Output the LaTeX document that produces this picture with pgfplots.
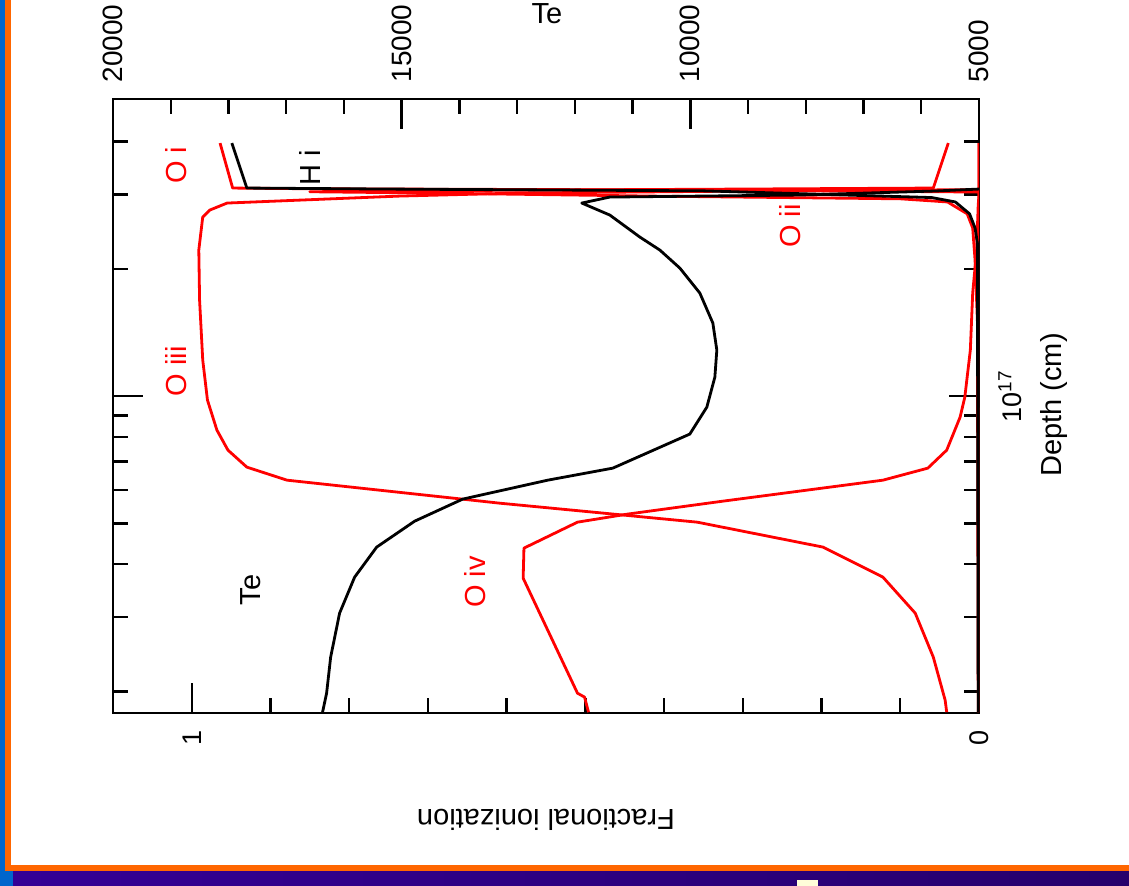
\documentclass[border=0pt]{standalone}
\usepackage{pgfplots}
\pgfplotsset{compat=1.18}
\usepackage{fontspec}
\setmainfont{Liberation Sans}
\definecolor{slideblue}{RGB}{0,102,204}
\definecolor{slideorange}{RGB}{255,102,0}
\definecolor{barleft}{RGB}{52,0,150}
\definecolor{barright}{RGB}{38,0,108}
\newcommand\lab{\fontsize{14.5}{17}\selectfont}
\newcommand\tlab{\fontsize{13.5}{16}\selectfont}
\newcommand\tlabT{\fontsize{14}{16}\selectfont}

\begin{document}
\begin{tikzpicture}
\useasboundingbox (0,0) rectangle (564.5pt,443pt);
% slide frame
\fill[white] (0,0) rectangle (564.5pt,443pt);
\shade[left color=barleft, right color=barright] (0,0) rectangle (564.5pt,7.5pt);
\fill[slideblue] (0,0) rectangle (2.5pt,443pt);
\fill[slideblue] (0,0) rectangle (6.5pt,7.5pt);
\fill[slideorange] (2.5pt,7.5pt) rectangle (5.5pt,443pt);
\fill[slideorange] (2.5pt,7.5pt) rectangle (564.5pt,10.5pt);
\fill[white!85!yellow] (398.5pt,0pt) rectangle (409pt,3pt);

% ionization fractions against depth
\begin{axis}[
  scale only axis, width=433pt, height=307pt,
  at={(56.5pt,86.5pt)}, anchor=south west,
  ymode=log, ymin=1.78e16, ymax=5.05e17,
  x dir=reverse, xmin=0, xmax=1.1,
  tick align=inside, major tick length=15pt, minor tick length=7.5pt,
  tick style={black, line width=1.2pt},
  axis line style={line width=1.3pt},
  xtick={0,1}, xticklabels={0,1},
  minor xtick={0.1,0.2,0.3,0.4,0.5,0.6,0.7,0.8,0.9},
  xtick pos=left, xticklabel pos=left,
  xticklabel style={font=\tlab, inner sep=0pt, rotate=90, anchor=east},
  xticklabel shift=8.5pt,
  ytick={1e17}, yticklabels={10\textsuperscript{17}},
  minor ytick={2e16,3e16,4e16,5e16,6e16,7e16,8e16,9e16,2e17,3e17,4e17},
  ytick pos=both, yticklabel pos=right,
  yticklabel style={font=\tlab, inner sep=0pt, rotate=90, anchor=north},
  yticklabel shift=9.5pt,
  xlabel={Fractional ionization},
  xlabel style={font=\lab, rotate=180, at={(axis description cs:0.5,-0.174)}, anchor=center},
  ylabel={Depth (cm)},
  ylabel style={font=\lab, at={(axis description cs:1.0866,0.5016)}, anchor=center},
]
% O iii
\addplot[red, line width=1.4pt, line join=round] coordinates {
(0.041,1.787e16) (0.043,1.908e16) (0.058,2.411e16) (0.081,3.065e16)
(0.122,3.729e16) (0.198,4.392e16) (0.358,5.032e16) (0.609,5.581e16)
(0.879,6.326e16) (0.930,6.792e16) (0.954,7.451e16) (0.968,8.309e16)
(0.980,9.784e16) (0.986,1.217e17) (0.990,1.687e17) (0.991,2.216e17)
(0.986,2.653e17) (0.977,2.756e17) (0.955,2.863e17) (0.736,2.974e17)
(0.583,3.024e17) (0.291,3.057e17) (0.0,3.08e17) (0.0,3.97e17)};
% O iv
\addplot[red, line width=1.4pt, line join=round] coordinates {
(0.496,1.787e16) (0.501,1.940e16) (0.510,1.982e16) (0.579,3.709e16)
(0.578,4.368e16) (0.510,5.032e16) (0.447,5.256e16) (0.325,5.643e16)
(0.122,6.326e16) (0.065,6.754e16) (0.041,7.451e16) (0.024,8.918e16)
(0.018,9.946e16) (0.011,1.285e17) (0.008,1.753e17) (0.003,2.216e17)
(0.001,2.832e17) (0.0,2.991e17) (0.0,3.97e17)};
% O ii
\addplot[red, line width=1.4pt, line join=round] coordinates {
(0.001,1.787e16) (0.002,1.5e17) (0.005,2.099e17) (0.008,2.500e17)
(0.015,2.700e17) (0.040,2.880e17) (0.100,2.930e17) (0.418,2.974e17)
(0.700,3.024e17) (0.850,3.045e17) (0.600,3.070e17) (0.300,3.090e17)
(0.058,3.107e17) (0.039,3.97e17)};
% O i
\addplot[red, line width=1.4pt, line join=round] coordinates {
(0.0,1.787e16) (0.0,3.040e17) (0.300,3.070e17) (0.850,3.095e17)
(0.948,3.107e17) (0.964,3.97e17)};
% H i
\addplot[black, line width=1.4pt, line join=round] coordinates {
(0.001,1.787e16) (0.002,2.300e17) (0.005,2.500e17) (0.012,2.700e17)
(0.030,2.880e17) (0.060,2.950e17) (0.350,3.060e17) (0.750,3.090e17)
(0.930,3.107e17) (0.949,3.97e17)};

\node[red, rotate=90, font=\lab] at (axis cs:1.020,3.521e17) {O i};
\node[rotate=90, font=\lab] at (axis cs:0.850,3.464e17) {H i};
\node[red, rotate=90, font=\lab] at (axis cs:0.240,2.526e17) {O ii};
\node[red, rotate=90, font=\lab] at (axis cs:1.020,1.146e17) {O iii};
\node[rotate=90, font=\lab] at (axis cs:0.925,3.474e16) {Te};
\node[red, rotate=90, font=\lab] at (axis cs:0.640,3.629e16) {O iv};
\end{axis}

% electron temperature against depth
\begin{axis}[
  scale only axis, width=433pt, height=307pt,
  at={(56.5pt,86.5pt)}, anchor=south west,
  ymode=log, ymin=1.78e16, ymax=5.05e17,
  x dir=reverse, xmin=5000, xmax=20000,
  scaled x ticks=false,
  hide y axis,
  axis line style={draw=none},
  tick align=inside, major tick length=15pt, minor tick length=7.5pt,
  tick style={black, line width=1.2pt},
  xtick={5000,10000,15000,20000}, xticklabels={5000,10000,15000,20000},
  minor xtick={6000,7000,8000,9000,11000,12000,13000,14000,16000,17000,18000,19000},
  xtick pos=right, xticklabel pos=right,
  xticklabel style={font=\tlabT, inner sep=0pt, rotate=90, anchor=west},
  xticklabel shift=8pt,
  xlabel={Te},
  xlabel style={font=\lab, at={(axis description cs:0.501,1.138)}, anchor=center},
]
\addplot[black, line width=1.4pt, line join=round] coordinates {
(16370,1.787e16) (16300,1.982e16) (16230,2.411e16) (16075,3.065e16)
(15815,3.729e16) (15433,4.392e16) (14775,5.059e16) (13943,5.705e16)
(12470,6.326e16) (11343,6.754e16) (10009,8.131e16) (9714,9.418e16)
(9575,1.109e17) (9541,1.285e17) (9610,1.489e17) (9835,1.753e17)
(10182,2.009e17) (10528,2.216e17) (10875,2.379e17) (11395,2.682e17)
(11880,2.863e17) (11395,2.958e17) (8102,2.991e17) (5762,3.057e17)
(5000,3.090e17) (4500,3.100e17)};
\end{axis}
\end{tikzpicture}
\end{document}
